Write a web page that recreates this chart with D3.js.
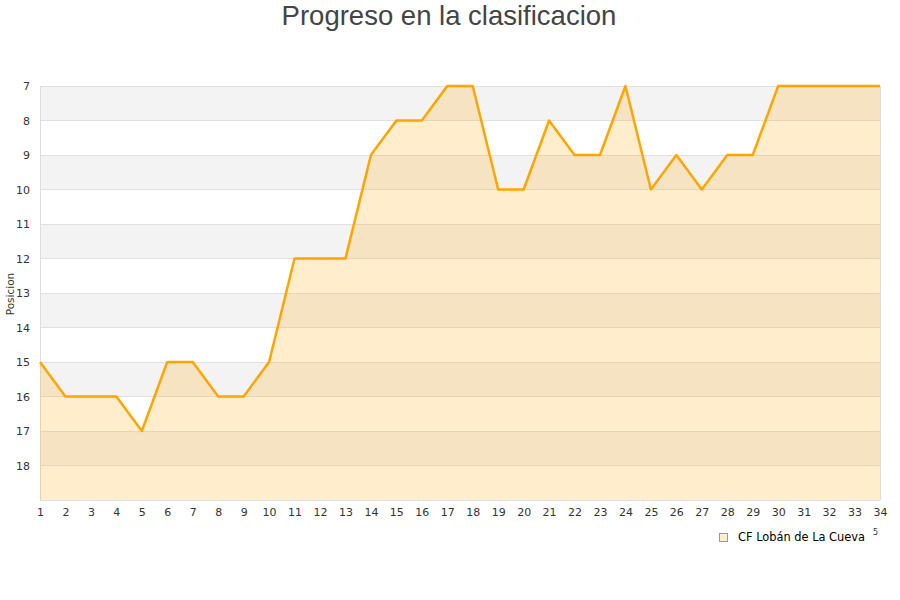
<!DOCTYPE html>
<html><head><meta charset="utf-8">
<script src="https://cdn.jsdelivr.net/npm/d3@7"></script>
<style>body{margin:0;background:#fff;} svg{display:block;}</style>
</head><body>
<svg id="c" width="900" height="600"></svg>
<script>
const jornadas = [1,2,3,4,5,6,7,8,9,10,11,12,13,14,15,16,17,18,19,20,21,22,23,24,25,26,27,28,29,30,31,32,33,34];
const posiciones = [15,16,16,16,17,15,15,16,16,15,12,12,12,9,8,8,7,7,10,10,8,9,9,7,10,9,10,9,9,7,7,7,7,7];
const yTicks = [7,8,9,10,11,12,13,14,15,16,17,18];
const titulo = "Progreso en la clasificacion";
const serie = "CF Lobán de La Cueva";
const ejeY = "Posicion";

const svg = d3.select("#c");
const L=40, R=880, T=86, B=500;
const x = d3.scaleLinear().domain([1,34]).range([L,R]);
const y = d3.scaleLinear().domain([7,19]).range([T,B]);

for (let v=7; v<19; v++) {
  svg.append("rect").attr("x",L).attr("y",y(v)).attr("width",R-L).attr("height",y(v+1)-y(v))
    .attr("fill", (v-7)%2===0 ? "#f3f3f3" : "#ffffff");
}
svg.append("g").selectAll("line").data(yTicks.concat([19])).join("line")
  .attr("x1",L).attr("x2",R).attr("y1",d=>y(d)).attr("y2",d=>y(d))
  .attr("stroke","#e0e0e0").attr("stroke-width",1).attr("shape-rendering","crispEdges");
svg.append("line").attr("x1",L).attr("x2",L).attr("y1",T).attr("y2",B).attr("stroke","#dddddd").attr("shape-rendering","crispEdges");
svg.append("line").attr("x1",R).attr("x2",R).attr("y1",T).attr("y2",B).attr("stroke","#dddddd").attr("shape-rendering","crispEdges");

const data = jornadas.map((j,i)=>({j, p:posiciones[i]}));
svg.append("path").datum(data)
  .attr("d", d3.area().x(d=>x(d.j)).y0(B).y1(d=>y(d.p)))
  .attr("fill","#ffa500").attr("fill-opacity",0.2);
svg.append("path").datum(data)
  .attr("d", d3.line().x(d=>x(d.j)).y(d=>y(d.p)))
  .attr("fill","none").attr("stroke","#ffa500").attr("stroke-width",2.5).attr("stroke-linejoin","round");

const yAxis = d3.axisLeft(y).tickValues(yTicks).tickSize(0).tickPadding(10);
const gy = svg.append("g").attr("transform",`translate(${L},0)`).call(yAxis);
gy.select(".domain").remove();
gy.selectAll("text").attr("font-family","DejaVu Sans, sans-serif").attr("font-size","11px").attr("fill","#333");

const xAxis = d3.axisBottom(x).tickValues(jornadas).tickFormat(d3.format("d")).tickSize(0).tickPadding(8);
const gx = svg.append("g").attr("transform",`translate(0,${B})`).call(xAxis);
gx.select(".domain").remove();
gx.selectAll("text").attr("font-family","DejaVu Sans, sans-serif").attr("font-size","11px").attr("fill","#333");

svg.append("text").attr("x",449).attr("y",25).attr("text-anchor","middle")
  .attr("font-family","Liberation Sans, Arial, sans-serif").attr("font-size","27.5px").attr("fill","#444").text(titulo);

svg.append("text").attr("transform","translate(14,294) rotate(-90)").attr("text-anchor","middle")
  .attr("font-family","DejaVu Sans, sans-serif").attr("font-size","10.5px").attr("fill","#333").text(ejeY);

svg.append("rect").attr("x",719.5).attr("y",533.5).attr("width",8).attr("height",8)
  .attr("fill","#ffeecc").attr("stroke","#999").attr("stroke-width",1);
svg.append("text").attr("x",738).attr("y",541).attr("font-family","DejaVu Sans, sans-serif")
  .attr("font-size","11.4px").attr("fill","#000").text(serie);
svg.append("text").attr("x",873).attr("y",535).attr("font-family","DejaVu Sans, sans-serif")
  .attr("font-size","8px").attr("fill","#333").text("5");
</script>
</body></html>
